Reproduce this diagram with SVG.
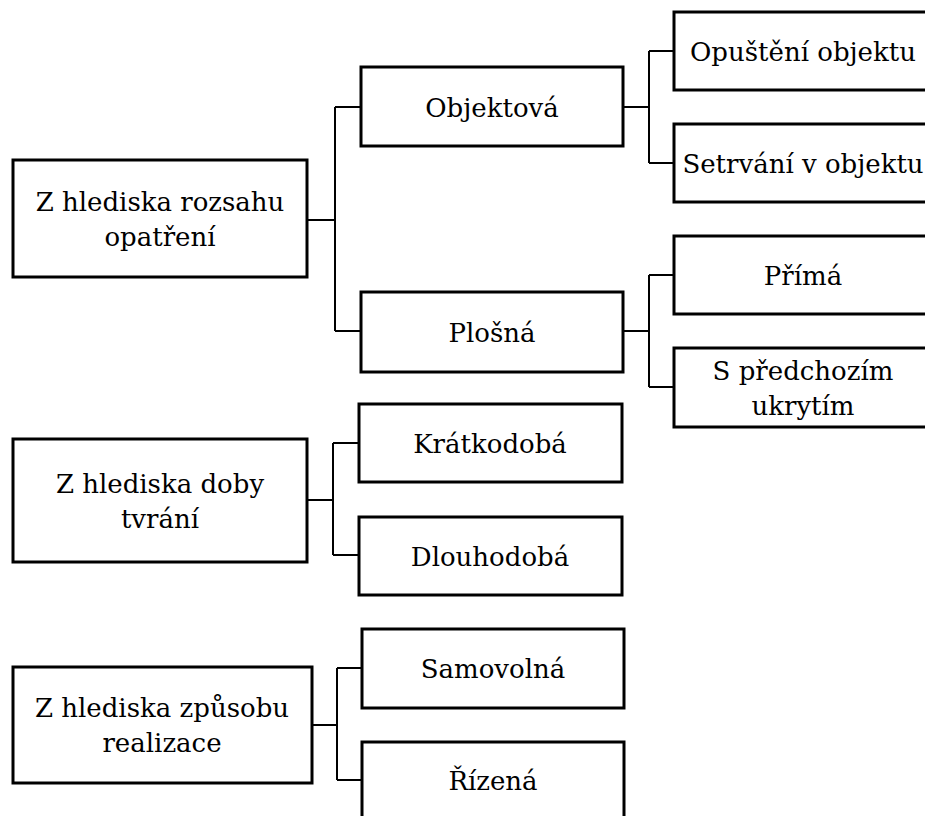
<svg xmlns="http://www.w3.org/2000/svg" width="925" height="816" viewBox="0 0 925 816">
<style>
.box{fill:#fff;stroke:#000;stroke-width:3}
.lbl{font-family:'DejaVu Serif',serif;font-size:26px;fill:#000;text-anchor:middle}
.conn{fill:none;stroke:#000;stroke-width:2}
</style>
<rect width="925" height="816" fill="#fff"/>
<g id="connectors" class="conn">
<path d="M307 220 H335 M335 107 V331 M335 107 H361 M335 331 H361"/>
<path d="M623 107 H649 M649 51 V163 M649 51 H674 M649 163 H674"/>
<path d="M623 331 H649 M649 275 V387 M649 275 H674 M649 387 H674"/>
<path d="M307 500 H333 M333 443 V555 M333 443 H359 M333 555 H359"/>
<path d="M312 725 H337 M337 668 V780 M337 668 H362 M337 780 H362"/>
</g>
<g id="n1"><rect class="box" x="13" y="160" width="294" height="117"/><text class="lbl" x="160" y="211">Z hlediska rozsahu</text><text class="lbl" x="160" y="246">opatření</text></g>
<g id="n2"><rect class="box" x="361" y="67" width="262" height="79"/><text class="lbl" x="492" y="117">Objektová</text></g>
<g id="n3"><rect class="box" x="361" y="292" width="262" height="80"/><text class="lbl" x="492" y="342">Plošná</text></g>
<g id="n4"><rect class="box" x="674" y="12" width="260" height="78"/><text class="lbl" x="803" y="61">Opuštění objektu</text></g>
<g id="n5"><rect class="box" x="674" y="124" width="260" height="78"/><text class="lbl" x="803" y="173">Setrvání v objektu</text></g>
<g id="n6"><rect class="box" x="674" y="236" width="260" height="78"/><text class="lbl" x="803" y="285">Přímá</text></g>
<g id="n7"><rect class="box" x="674" y="348" width="260" height="79"/><text class="lbl" x="803" y="380">S předchozím</text><text class="lbl" x="803" y="415">ukrytím</text></g>
<g id="n8"><rect class="box" x="13" y="439" width="294" height="123"/><text class="lbl" x="160" y="493">Z hlediska doby</text><text class="lbl" x="160" y="528">tvrání</text></g>
<g id="n9"><rect class="box" x="359" y="404" width="263" height="78"/><text class="lbl" x="490" y="453">Krátkodobá</text></g>
<g id="n10"><rect class="box" x="359" y="517" width="263" height="78"/><text class="lbl" x="490" y="566">Dlouhodobá</text></g>
<g id="n11"><rect class="box" x="13" y="667" width="299" height="116"/><text class="lbl" x="162" y="717">Z hlediska způsobu</text><text class="lbl" x="162" y="752">realizace</text></g>
<g id="n12"><rect class="box" x="362" y="629" width="262" height="79"/><text class="lbl" x="493" y="678">Samovolná</text></g>
<g id="n13"><rect class="box" x="362" y="742" width="262" height="80"/><text class="lbl" x="493" y="790">Řízená</text></g>
</svg>
